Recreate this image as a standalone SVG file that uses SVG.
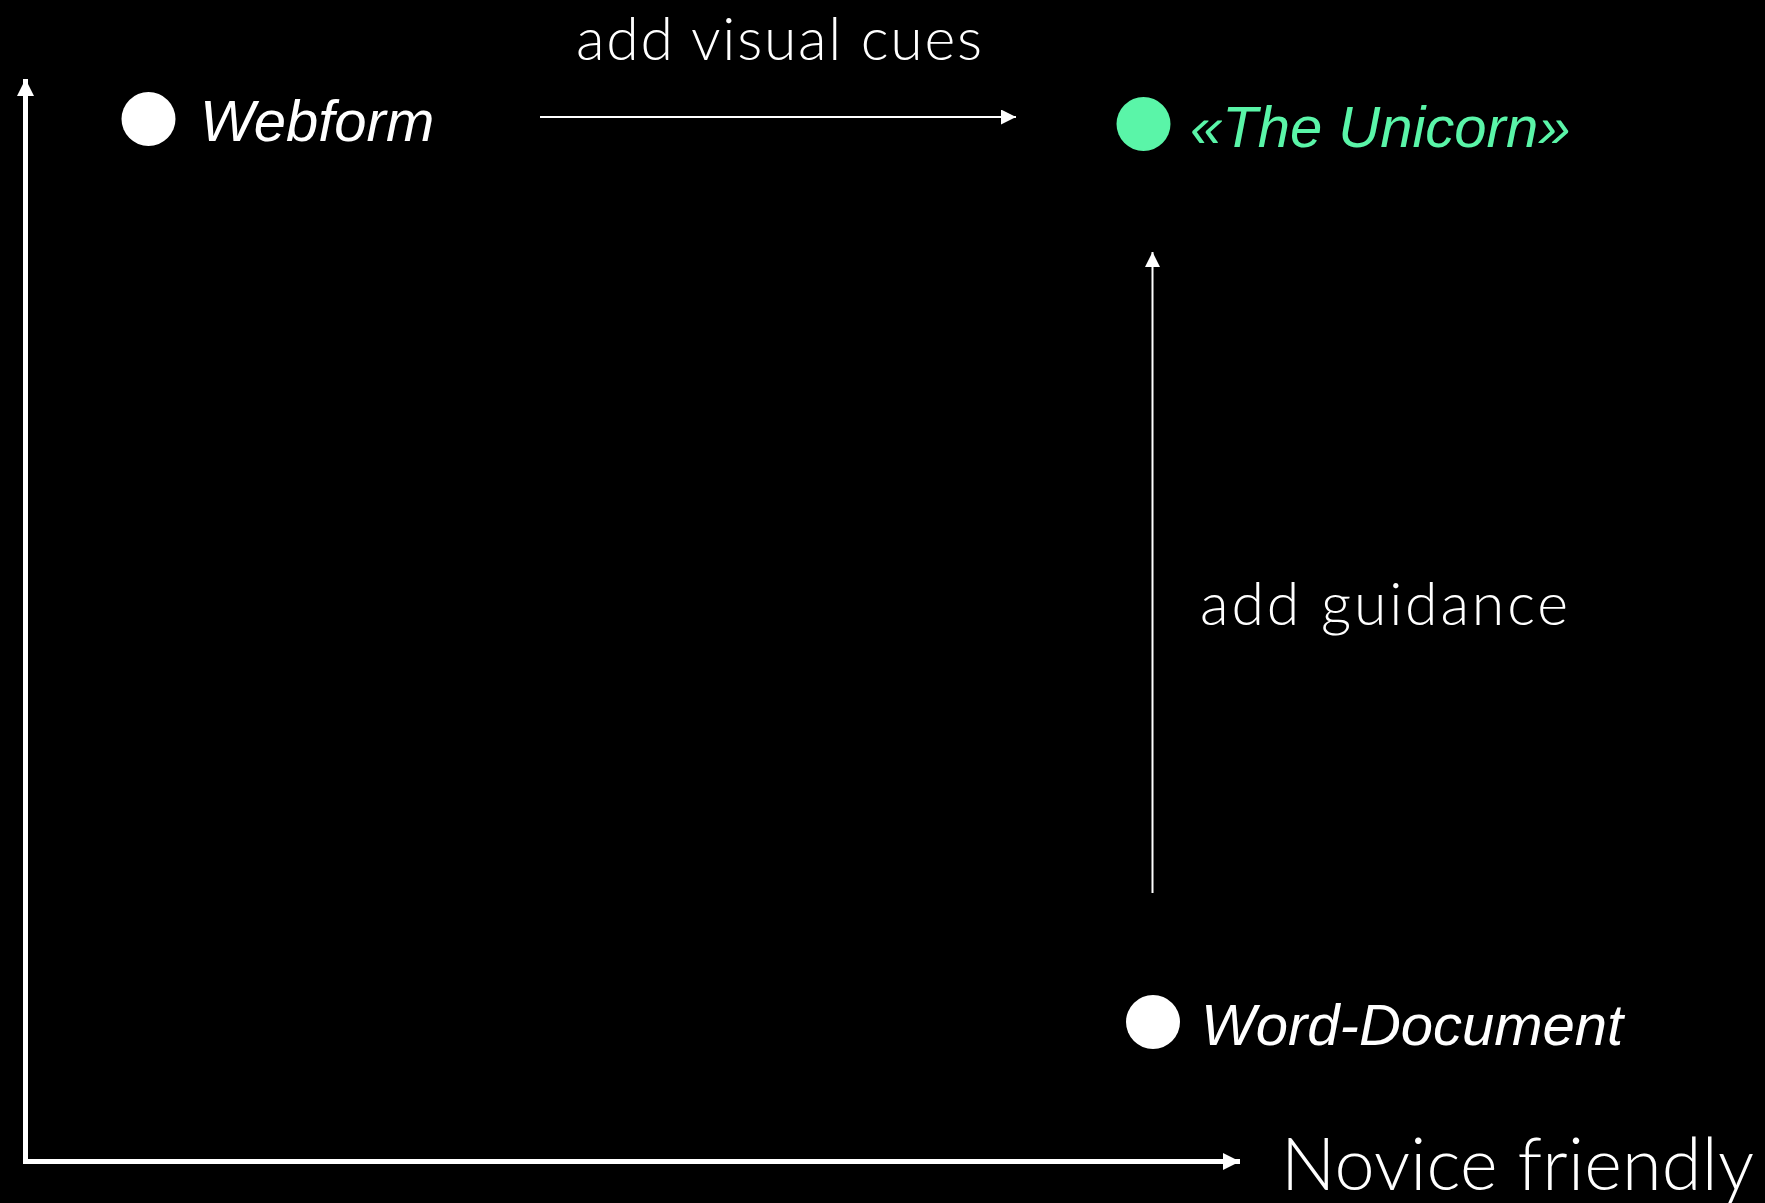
<svg xmlns="http://www.w3.org/2000/svg" width="1765" height="1203" viewBox="0 0 1765 1203">
<style>
.lbl{font-family:"Liberation Sans",Arial,sans-serif;font-style:italic;font-size:58px;fill:#ffffff}
.uni{fill:#5af5a8}
.note{font-family:Lato,"Open Sans",sans-serif;font-weight:300;fill:#ffffff}
.axis{stroke:#ffffff;stroke-width:5;fill:none}
.thin{stroke:#ffffff;stroke-width:2;fill:none}
</style>
<defs>
<marker id="headThick" markerUnits="userSpaceOnUse" markerWidth="17" markerHeight="17" refX="17" refY="8.5" orient="auto">
<path d="M0,0 L17,8.5 L0,17 Z" fill="#ffffff"/>
</marker>
<marker id="headThin" markerUnits="userSpaceOnUse" markerWidth="15" markerHeight="15" refX="15" refY="7.5" orient="auto">
<path d="M0,0 L15,7.5 L0,15 Z" fill="#ffffff"/>
</marker>
</defs>
<rect x="0" y="0" width="1765" height="1203" fill="#000000"/>
<g id="connectors">
<line class="axis" x1="25.5" y1="1159" x2="25.5" y2="79" marker-end="url(#headThick)"/>
<line class="axis" x1="23" y1="1161.5" x2="1240" y2="1161.5" marker-end="url(#headThick)"/>
<line class="thin" x1="540" y1="117" x2="1016" y2="117" marker-end="url(#headThin)"/>
<line class="thin" x1="1152.5" y1="893" x2="1152.5" y2="252" marker-end="url(#headThin)"/>
</g>
<g id="node-webform">
<circle cx="148.5" cy="119" r="27" fill="#ffffff"/>
<text class="lbl" x="200" y="141">Webform</text>
</g>
<g id="node-unicorn">
<circle cx="1143.5" cy="124" r="27" fill="#5af5a8"/>
<text class="lbl uni" x="1190" y="147">«The Unicorn»</text>
</g>
<g id="node-word">
<circle cx="1153" cy="1022" r="27" fill="#ffffff"/>
<text class="lbl" x="1201" y="1045">Word-Document</text>
</g>
<g id="labels">
<text class="note" x="576" y="60" font-size="59" textLength="406" lengthAdjust="spacing">add visual cues</text>
<text class="note" x="1200" y="625" font-size="59" textLength="368" lengthAdjust="spacing">add guidance</text>
<text class="note" x="1281" y="1190" font-size="72" textLength="473" lengthAdjust="spacing">Novice friendly</text>
</g>
</svg>
